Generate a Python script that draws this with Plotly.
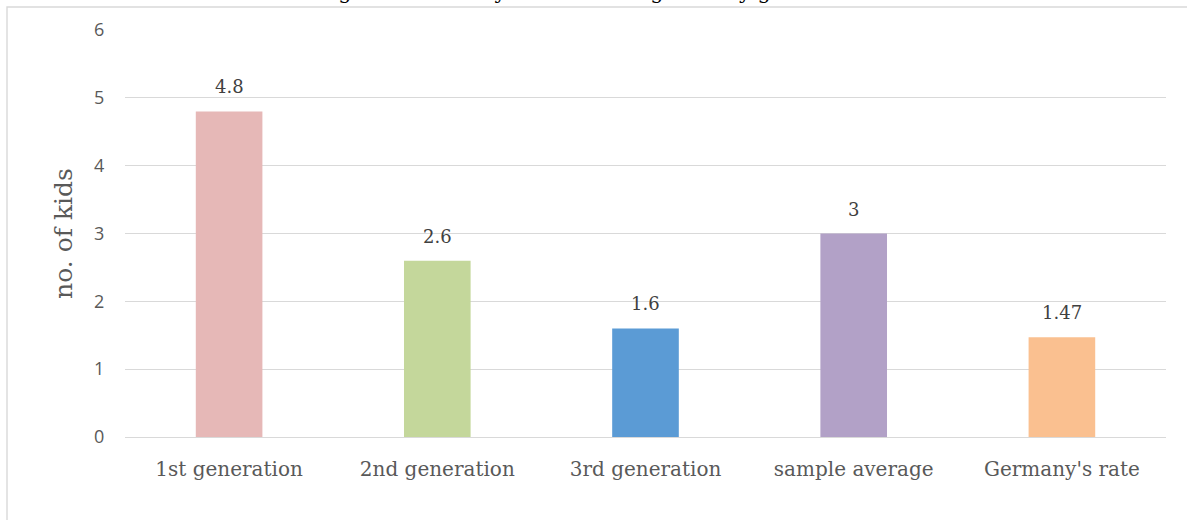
import plotly.graph_objects as go

categories = ["1st generation", "2nd generation", "3rd generation", "sample average", "Germany's rate"]
values = [4.8, 2.6, 1.6, 3, 1.47]
labels = ["4.8", "2.6", "1.6", "3", "1.47"]
colors = ["#E6B8B7", "#C4D79B", "#5B9BD5", "#B2A1C7", "#FAC090"]
title_text = "Figure 4: Fertility level of immigrants by generation"

W, H = 1187, 520
L, R, T, B = 125, 21, 30, 83
pw, ph = W - L - R, H - T - B

fig = go.Figure(go.Bar(
    x=categories, y=values, marker_color=colors, marker_line_width=0,
    hoverinfo="x+y",
))

for c, v, t in zip(categories, values, labels):
    fig.add_annotation(x=c, y=v, text=t, showarrow=False, yanchor="bottom", yshift=12,
                       font=dict(family="DejaVu Serif", size=18, color="#404040"))

fig.update_layout(
    width=W, height=H, margin=dict(l=L, r=R, t=T, b=B),
    paper_bgcolor="white", plot_bgcolor="white",
    bargap=0.68, showlegend=False,
    font=dict(family="Liberation Sans"),
)
fig.update_yaxes(
    range=[0, 6], dtick=1, showgrid=True, gridcolor="#D9D9D9", gridwidth=1.4,
    zeroline=False, showline=False, ticks="outside", ticklen=16, tickcolor="rgba(0,0,0,0)",
    tickfont=dict(family="Open Sans", size=18, color="#595959"),
    title=dict(text="no. of kids", font=dict(family="DejaVu Serif", size=25, color="#595959"), standoff=14),
)
fig.update_xaxes(
    showline=True, linecolor="#D9D9D9", linewidth=1.4,
    ticks="outside", ticklen=14, tickcolor="rgba(0,0,0,0)",
    tickfont=dict(family="DejaVu Serif", size=20, color="#595959"),
)
# chart border
fig.add_shape(type="rect", xref="paper", yref="paper",
              x0=(7 - L) / pw, x1=(W + 10 - L) / pw,
              y0=-(H + 10 - T - ph) / ph, y1=1 + (T - 7) / ph,
              line=dict(color="#D9D9D9", width=1.4), fillcolor="rgba(0,0,0,0)", layer="below")
# title, clipped at the top as in the reference
fig.add_annotation(text=title_text, xref="paper", yref="paper",
                   x=(595 - L) / pw, y=1 + (T - 6) / ph, xanchor="center", yanchor="bottom",
                   showarrow=False, font=dict(family="DejaVu Serif", size=21, color="#000000"))

fig.write_html("out.html", config={"displayModeBar": False},
               post_script="document.body.style.margin='0';")
